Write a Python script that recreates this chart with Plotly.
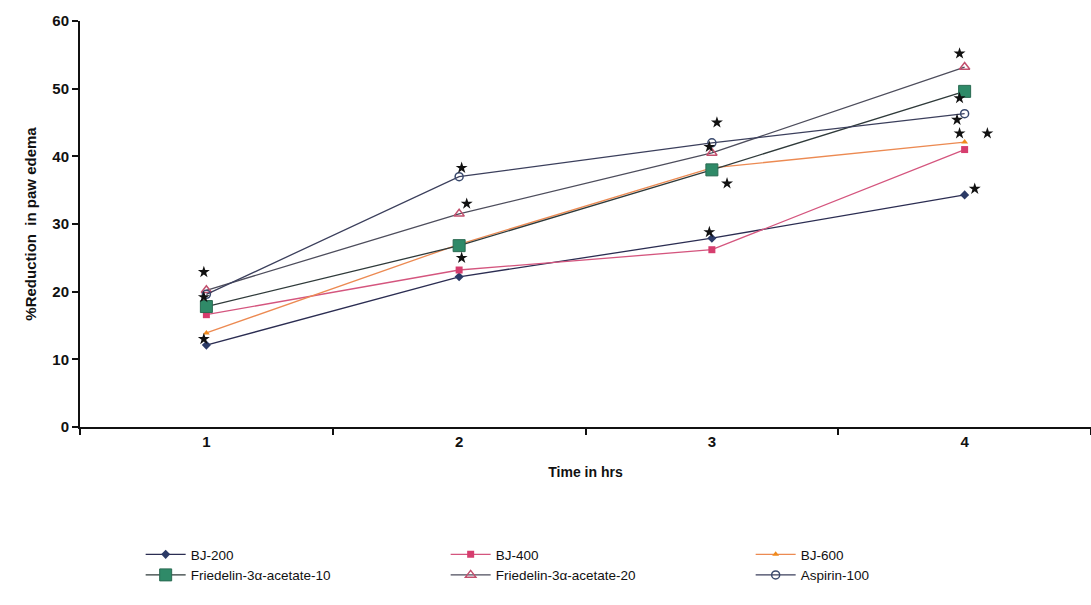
import plotly.graph_objects as go

time_hrs = [1, 2, 3, 4]
x_tick_labels = ["1", "2", "3", "4"]

bj200 = [12.1, 22.2, 27.9, 34.3]
bj400 = [16.6, 23.2, 26.2, 41.0]
bj600 = [13.9, 27.0, 38.3, 42.1]
fried10 = [17.8, 26.8, 38.0, 49.6]
fried20 = [20.2, 31.5, 40.5, 53.2]
aspirin = [19.6, 37.0, 42.0, 46.3]

star_x = [0.99, 0.99, 0.99, 2.01, 2.03, 2.01, 3.02, 2.99, 3.06, 2.99,
          3.98, 3.98, 3.97, 3.98, 4.09, 4.04]
star_y = [22.9, 19.2, 13.0, 38.3, 33.0, 25.0, 45.0, 41.4, 36.0, 28.8,
          55.2, 48.6, 45.4, 43.4, 43.4, 35.2]

series = [
    ("BJ-200", bj200, "#2b2d52", dict(symbol="diamond", size=7, color="#2b3a66")),
    ("BJ-400", bj400, "#d4557e", dict(symbol="square", size=7, color="#d63d6e")),
    ("BJ-600", bj600, "#ec8a52", dict(symbol="triangle-up", size=6, color="#f08a1c")),
    ("Friedelin-3\u03b1-acetate-10", fried10, "#2f3a3a",
     dict(symbol="square", size=12, color="#2f8a68", line=dict(color="#2a6a52", width=1))),
    ("Friedelin-3\u03b1-acetate-20", fried20, "#4d4d5c",
     dict(symbol="triangle-up-open", size=9, color="#c2506e", line=dict(width=1.5))),
    ("Aspirin-100", aspirin, "#3b3f5c",
     dict(symbol="circle-open", size=8, color="#3a4a6e", line=dict(width=1.5))),
]

fig = go.Figure()
for name, vals, lc, mk in series:
    fig.add_trace(go.Scatter(
        x=time_hrs, y=vals, name=name, mode="lines+markers",
        line=dict(color=lc, width=1.3), marker=mk,
    ))

fig.add_trace(go.Scatter(
    x=star_x, y=star_y, mode="markers", showlegend=False,
    marker=dict(symbol="star", size=9, color="#111111"),
    hoverinfo="skip",
))

fig.update_layout(
    width=1091, height=605,
    margin=dict(l=80, r=0, t=21, b=178),
    plot_bgcolor="white", paper_bgcolor="white",
    font=dict(family="Liberation Sans, Arial, sans-serif", color="#111111"),
    xaxis=dict(
        range=[0.5, 4.5], tickmode="array", tickvals=time_hrs, ticktext=x_tick_labels,
        ticks="", showgrid=False, zeroline=False,
        showline=True, linecolor="#111111", linewidth=2,
        tickfont=dict(size=15, weight="bold"),
        minor=dict(tick0=0.5, dtick=1, ticks="outside", ticklen=6, tickwidth=2,
                   tickcolor="#111111", showgrid=False),
        title=dict(text="Time in hrs", font=dict(size=14, weight="bold"), standoff=18),
    ),
    yaxis=dict(
        range=[0, 60], dtick=10, ticks="outside", ticklen=6, tickwidth=2,
        tickcolor="#111111", showgrid=False, zeroline=False,
        showline=True, linecolor="#111111", linewidth=2,
        tickfont=dict(size=15, weight="bold"),
        title=dict(text="%Reduction  in paw edema", font=dict(size=15, weight="bold"),
                   standoff=12),
    ),
    legend=dict(
        orientation="h", x=0.06, xanchor="left", y=-0.276, yanchor="top",
        entrywidth=250, entrywidthmode="pixels",
        font=dict(size=13.5), tracegroupgap=0, itemwidth=40,
    ),
)

fig.write_html("out.html")
